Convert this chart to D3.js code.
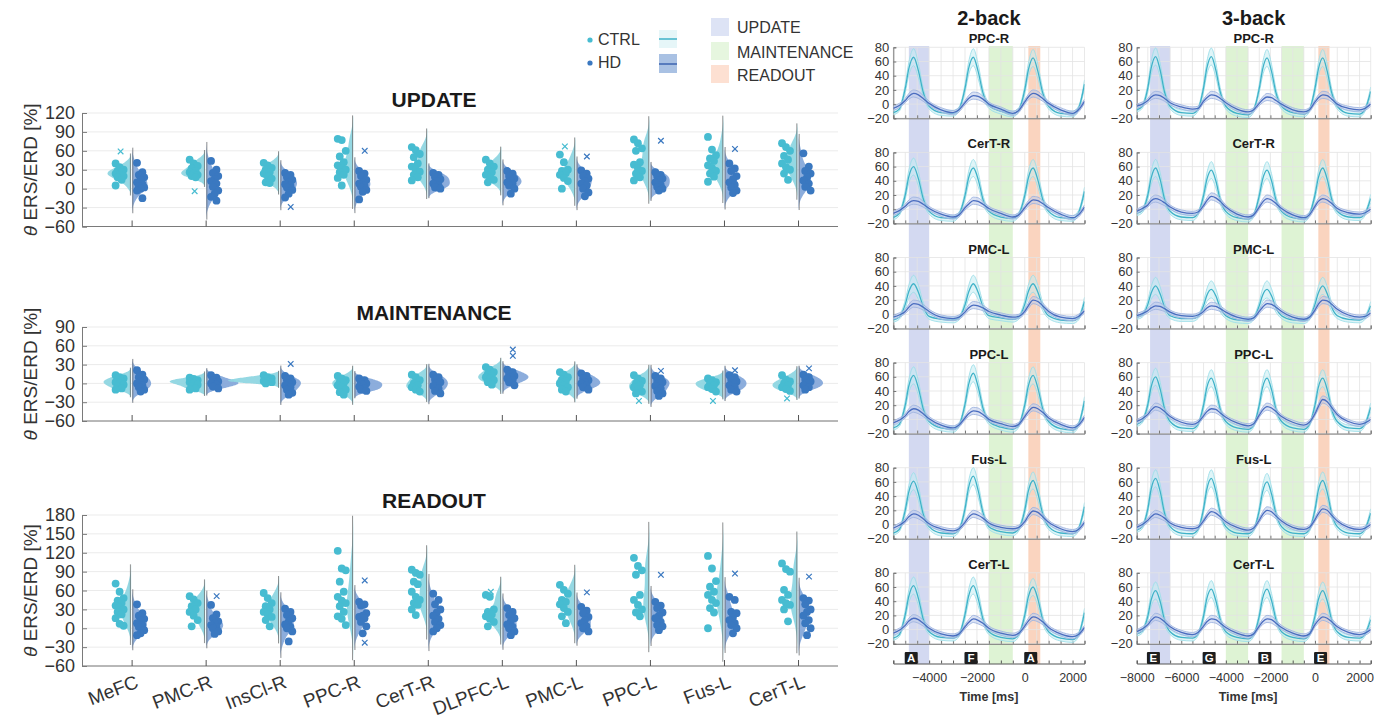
<!DOCTYPE html>
<html><head><meta charset="utf-8">
<script src="https://cdnjs.cloudflare.com/ajax/libs/d3/7.8.5/d3.min.js"></script>
<style>
body{margin:0;background:#fff;}
svg{font-family:"Liberation Sans",Arial,sans-serif;}
</style></head><body>
<svg id="fig" width="1384" height="723"></svg>
<script>
// ---------- left: ERS/ERD per region ----------
const regions = ["MeFC","PMC-R","InsCl-R","PPC-R","CerT-R","DLPFC-L","PMC-L","PPC-L","Fus-L","CerT-L"];

const updCtrl = [
  [40,34,30,28,26,24,22,20,18,14,5],
  [46,40,36,32,28,26,24,22,20,18],
  [41,37,33,30,26,24,20,16,10,9],
  [79,77,60,51,42,37,33,30,26,22,17,5],
  [66,61,55,50,40,35,30,27,22,18,13],
  [46,40,35,30,26,22,18,14,10],
  [54,42,30,28,25,22,17,12,0],
  [78,72,64,60,42,38,32,28,24,18,13],
  [82,62,53,48,44,37,33,28,24,19,11],
  [72,66,60,52,46,40,34,30,24,14]];
const updHd = [
  [41,26,22,18,14,10,7,4,2,0,-3,-15],
  [44,30,25,20,15,12,8,3,-3,-8,-13,-19],
  [25,22,18,14,10,7,5,2,-2,-8,-14],
  [28,24,20,14,10,8,5,3,-2,-5,-17],
  [25,22,18,15,12,8,5,2,0],
  [28,24,20,16,12,10,8,5,0,-8],
  [29,24,20,16,12,8,5,0,-6,-12],
  [26,22,20,16,13,10,6,3,0,-3],
  [40,32,28,20,15,10,6,2,-3,-7],
  [56,35,28,24,18,13,8,3,-3]];
const updCtrlOut = [[59],[-4],[],[],[],[],[67],[],[],[]];
const updHdOut   = [[],[],[-29],[60],[],[],[51],[76],[63],[]];

const mntCtrl = [
  [13,10,8,5,3,2,0,-2,-5,-8,-10],
  [9,7,5,4,3,2,0,-2,-5,-8,-10],
  [13,10,8,7,5,4,3,2,0],
  [12,8,5,2,0,-3,-6,-10,-14,-18],
  [14,10,5,0,-3,-6,-10,-13],
  [26,22,18,15,12,10,8,5,2,-2],
  [18,14,10,6,3,0,-3,-6,-10,-13],
  [13,8,4,0,-3,-6,-10,-13,-16],
  [8,5,2,0,-3,-6,-9,-13],
  [13,6,3,0,-3,-6,-9,-12]];
const mntHd = [
  [21,14,10,6,3,0,-3,-6,-10,-13],
  [13,9,5,3,1,0,-2,-5,-8],
  [12,8,5,2,0,-3,-6,-10,-15,-18],
  [8,5,2,0,-2,-5,-8,-10,-12],
  [14,10,6,2,0,-4,-8,-12,-16],
  [22,18,15,12,10,8,5,2,-3],
  [16,12,8,5,2,0,-3,-6,-10],
  [12,8,4,2,0,-4,-8,-12,-16,-20],
  [13,10,6,3,0,-3,-6,-10,-13],
  [14,10,6,3,0,-3,-6,-10]];
const mntCtrlOut = [[],[],[],[],[],[],[],[-28],[-28],[-24]];
const mntHdOut   = [[],[],[31],[],[],[54,44],[],[20],[21],[24]];

const rdCtrl = [
  [71,58,48,44,40,36,33,30,26,22,16,7,4],
  [51,46,40,35,30,26,20,13,3],
  [56,48,40,35,30,26,22,18,13,3],
  [123,95,92,74,58,50,44,40,35,26,19,15,5],
  [93,88,85,74,70,58,50,45,40,37,30,21],
  [53,50,30,26,22,19,15,10,3],
  [69,61,55,45,42,38,32,26,19,8],
  [112,99,92,85,53,45,37,30,25,19],
  [115,95,75,66,58,53,45,40,32,25,0],
  [103,94,90,61,53,45,40,37,30,11]];
const rdHd = [
  [38,24,20,15,12,8,5,2,-3,-8,-11],
  [37,22,16,11,8,5,2,0,-5,-9],
  [31,26,21,16,11,6,2,0,-5,-21],
  [42,38,36,24,20,18,16,10,3,-8],
  [55,45,38,30,25,20,15,10,5,0,-5],
  [32,26,21,16,11,6,2,0,-5,-11],
  [34,28,24,18,13,8,3,0,-5],
  [42,36,32,25,20,16,10,5,3,-3],
  [50,45,26,24,18,13,8,5,0,-8],
  [48,44,38,30,26,20,13,8,0,-11]];
const rdCtrlOut = [[],[],[],[],[],[58],[],[],[],[]];
const rdHdOut   = [[],[51],[],[76,-23],[],[],[57],[85],[87],[82]];

// ---------- right: time courses ----------
const rois = ["PPC-R","CerT-R","PMC-L","PPC-L","Fus-L","CerT-L"];
const t2 = [-5500,-5250, -5000,-4850,-4650,-4450,-4250,-4000,-3500,-3000,-2750,
  -2500,-2350,-2150,-1950,-1750,-1500,-1000,-500,-250,
  0,150,350,550,750,1000,1500,2000,2250,2500];
const t3 = [-8000,-7750, -7500,-7350,-7150,-6950,-6750,-6500,-6000,-5500,-5250,
  -5000,-4850,-4650,-4450,-4250,-4000,-3500,-3000,-2750,
  -2500,-2350,-2150,-1950,-1750,-1500,-1000,-500,-250,
  0,150,350,550,750,1000,1500,2000,2250,2500];

const ctrl2 = [
  [-12,-7, 22,50,66,47,17,-3,-12,-13,-7, 22,50,66,46,16,-2,-10,-14,-8, 20,48,65,46,16,-3,-13,-14,-6,28],
  [-12,-6, 20,46,60,43,15,-3,-12,-13,-7, 19,44,58,42,14,-3,-11,-13,-7, 19,44,58,41,14,-3,-12,-13,-5,25],
  [-8,-4, 14,32,43,31,11,-3,-7,-8,-5, 13,31,43,31,11,-2,-5,-7,-4, 14,32,43,31,11,-2,-8,-9,-5,18],
  [-12,-7, 20,47,62,44,15,-3,-12,-14,-8, 21,49,65,46,16,-3,-11,-14,-8, 20,47,62,44,15,-3,-13,-15,-7,26],
  [-12,-7, 20,46,61,44,15,-3,-12,-13,-7, 22,52,68,48,17,-3,-10,-12,-6, 20,47,62,44,15,-3,-12,-13,-6,25],
  [-12,-7, 21,47,62,44,15,-3,-11,-12,-7, 21,47,62,44,15,-3,-11,-13,-7, 20,46,60,43,14,-3,-12,-14,-7,24]];
const hd2 = [
  [-6,-2, 5,11,15,13,8,1,-8,-12,-8, 2,8,12,11,7,0,-7,-13,-9, 3,10,15,13,8,1,-8,-13,-8,4],
  [-6,-2, 4,9,12,11,7,1,-7,-11,-8, 2,7,12,11,7,1,-6,-11,-8, 2,8,13,12,8,2,-7,-12,-8,3],
  [-4,-1, 4,10,15,14,10,4,-4,-6,-4, 3,9,13,12,9,4,-1,-4,-3, 4,12,20,18,12,4,-4,-6,-3,5],
  [-5,-1, 5,11,15,13,8,1,-8,-12,-8, 2,8,12,11,7,0,-6,-10,-7, 4,11,17,15,10,2,-7,-12,-8,3],
  [-5,-1, 5,11,15,13,8,1,-6,-9,-6, 3,10,15,13,9,2,-4,-6,-4, 4,12,19,17,11,3,-6,-10,-7,3],
  [-5,-1, 6,12,16,14,9,2,-6,-9,-6, 4,10,15,13,9,2,-5,-8,-5, 5,12,18,16,11,3,-6,-10,-7,3]];
const ctrl3 = [
  [-8,-3, 23,51,67,48,17,-3,-12,-13,-7, 23,51,67,48,17,-3,-13,-15,-8, 22,49,65,46,16,-3,-12,-14,-8, 22,49,65,46,16,-3,-13,-14,-7,18],
  [-6,-2, 20,44,58,42,14,-3,-11,-12,-6, 19,42,55,40,13,-3,-12,-14,-8, 19,42,55,40,13,-3,-12,-14,-7, 20,44,58,42,14,-3,-11,-12,-6,15],
  [-4,-1, 14,30,40,29,10,-2,-6,-6,-3, 12,27,35,26,9,-2,-8,-9,-5, 12,27,35,26,9,-2,-8,-9,-5, 14,30,40,29,10,-2,-7,-8,-4,12],
  [-7,-2, 21,46,60,43,15,-3,-12,-13,-7, 20,45,58,42,14,-3,-12,-14,-8, 20,45,58,42,14,-3,-12,-14,-7, 20,45,58,42,14,-3,-12,-13,-6,17],
  [-8,-3, 22,50,65,47,16,-3,-12,-13,-7, 22,50,65,47,16,-3,-12,-13,-7, 20,46,60,43,15,-3,-12,-13,-7, 21,48,62,45,15,-3,-12,-13,-6,16],
  [-6,-2, 19,42,55,40,13,-3,-11,-12,-6, 19,44,57,41,14,-3,-11,-13,-7, 19,44,57,41,14,-3,-11,-13,-7, 19,42,55,40,13,-3,-11,-12,-6,14]];
const hd3 = [
  [-3,0, 5,10,13,12,8,2,-4,-7,-6, 4,9,13,12,8,2,-7,-11,-8, 1,6,10,9,5,0,-8,-11,-8, 3,9,13,12,7,0,-6,-8,-6,0],
  [-3,1, 6,12,15,13,9,3,-4,-6,-4, 5,12,18,16,11,3,-7,-11,-8, 3,10,15,13,8,1,-8,-12,-8, 4,11,15,13,8,1,-5,-7,-5,0],
  [-2,1, 5,9,12,11,8,3,-2,-3,-1, 4,9,12,11,8,3,-4,-7,-5, 4,10,15,14,10,4,-4,-7,-4, 6,14,20,19,14,7,-1,-4,-3,2],
  [-3,1, 7,13,18,16,11,4,-4,-7,-4, 5,11,15,14,9,3,-5,-9,-6, 6,13,18,16,11,4,-4,-8,-4, 8,18,28,25,17,7,-3,-7,-5,0],
  [-4,0, 6,11,15,13,9,2,-4,-6,-4, 5,12,18,16,11,4,-4,-8,-5, 6,14,20,18,12,5,-4,-7,-4, 7,15,22,20,13,5,-4,-7,-5,0],
  [-3,1, 7,13,18,16,11,4,-4,-7,-4, 5,11,15,14,9,3,-5,-9,-6, 5,11,15,14,9,3,-5,-9,-6, 7,13,18,16,11,4,-4,-7,-5,0]];
const ctrlSe2 = [3,3, 6,9,12,10,6,4,4,4,3, 6,9,12,10,6,4,4,4,3, 6,9,12,10,6,4,4,4,3,6];
const hdSe2   = [3,3, 3,4,5,5,4,3,3,3,3, 3,4,5,5,4,3,3,3,3, 3,4,5,5,4,3,3,3,3,3];
const ctrlSe3 = [3,3, 6,9,12,10,6,4,4,4,3, 6,9,12,10,6,4,4,4,3, 6,9,12,10,6,4,4,4,3, 6,9,12,10,6,4,4,4,3,6];
const hdSe3   = [3,3, 3,4,5,5,4,3,3,3,3, 3,4,5,5,4,3,3,3,3, 3,4,5,5,4,3,3,3,3, 3,4,5,5,4,3,3,3,3,3];

const updWin2 = [[-4850,-4000]], mntWin2 = [[-1500,-500]], rdWin2 = [[150,650]];
const updWin3 = [[-7400,-6500]], mntWin3 = [[-4000,-3000],[-1500,-500]], rdWin3 = [[150,650]];
const onsets2 = [-5000,-2500,0], letters2 = ["A","F","A"];
const onsets3 = [-7500,-5000,-2500,0], letters3 = ["E","G","B","E"];

// ---------- colours ----------
const cCtrl = "#47bcd1", cHd = "#3a78c0";
const vCtrl = "#8fd6e2", vHd = "#86a9da";
const winCol = {upd:"#cbd2ef", mnt:"#d8f1cd", rd:"#f9cdb4"};

const svg = d3.select("#fig");

// ================= left panels =================
const xCat = d3.scaleLinear().domain([-0.67, 9.54]).range([82, 838]);
const phases = [
  {name:"UPDATE", ctrl:updCtrl, hd:updHd, cOut:updCtrlOut, hOut:updHdOut, dom:[-60,120], rng:[226.5,113], ty:107},
  {name:"MAINTENANCE", ctrl:mntCtrl, hd:mntHd, cOut:mntCtrlOut, hOut:mntHdOut, dom:[-60,90], rng:[421,327], ty:320},
  {name:"READOUT", ctrl:rdCtrl, hd:rdHd, cOut:rdCtrlOut, hOut:rdHdOut, dom:[-60,180], rng:[666,515], ty:508}
];

function kde(vals) {
  const sd = d3.deviation(vals);
  const bw = 1.06 * sd * Math.pow(vals.length, -0.2);
  const lo = d3.min(vals) - 2.5 * bw, hi = d3.max(vals) + 2.5 * bw;
  const pts = [];
  for (let v = lo; v <= hi + 1e-9; v += (hi - lo) / 80) {
    const dens = d3.mean(vals, d => Math.exp(-0.5 * ((v - d) / bw) ** 2) / (bw * Math.sqrt(2 * Math.PI)));
    pts.push([v, dens]);
  }
  return {pts, lo, hi};
}

const K = 640; // px per unit density
phases.forEach((ph, pi) => {
  const y = d3.scaleLinear().domain(ph.dom).range(ph.rng);
  const g = svg.append("g");
  const ticks = d3.range(ph.dom[0], ph.dom[1] + 1, 30);

  g.selectAll(".grid").data(ticks).enter().append("line")
    .attr("x1", 82).attr("x2", 838).attr("y1", d => y(d)).attr("y2", d => y(d))
    .attr("stroke", "#ebebeb").attr("stroke-width", 1);

  const yAx = g.append("g").attr("transform", "translate(82,0)")
    .call(d3.axisLeft(y).tickValues(ticks).tickSize(-5).tickPadding(7));
  yAx.select(".domain").attr("stroke", "#7a7a7a");
  yAx.selectAll(".tick line").attr("stroke", "#7a7a7a");
  yAx.selectAll("text").attr("font-size", 18).attr("fill", "#333").attr("font-family", "Liberation Sans, Arial");

  const xAx = g.append("g").attr("transform", "translate(0," + ph.rng[0] + ")")
    .call(d3.axisBottom(xCat).tickValues(d3.range(10)).tickSize(-6).tickFormat(""));
  xAx.select(".domain").attr("stroke", "#7a7a7a").attr("d", "M82,0H838");
  xAx.selectAll(".tick line").attr("stroke", "#555");

  g.append("text").attr("x", 434).attr("y", ph.ty).attr("text-anchor", "middle")
    .attr("font-size", 21).attr("font-weight", "bold").attr("fill", "#1a1a1a").text(ph.name);

  const yl = g.append("text")
    .attr("transform", "translate(37," + ((ph.rng[0] + ph.rng[1]) / 2) + ") rotate(-90)")
    .attr("text-anchor", "middle").attr("font-size", 19).attr("fill", "#333");
  yl.append("tspan").attr("font-style", "italic").text("θ");
  yl.append("tspan").text(" ERS/ERD [%]");

  regions.forEach((r, ci) => {
    const cx = xCat(ci);
    [["ctrl", -1], ["hd", 1]].forEach(([key, side]) => {
      const k = kde(ph[key][ci]);
      const area = d3.area()
        .y(d => y(d[0]))
        .x0(cx + side * 0.5)
        .x1(d => cx + side * (0.5 + d[1] * K))
        .curve(d3.curveBasis);
      g.append("path").datum(k.pts).attr("d", area)
        .attr("fill", key === "ctrl" ? vCtrl : vHd).attr("fill-opacity", 0.95);
      g.append("line").attr("x1", cx + side * 1.2).attr("x2", cx + side * 1.2)
        .attr("y1", y(k.hi)).attr("y2", y(k.lo))
        .attr("stroke", "#6e6e6e").attr("stroke-width", 1).attr("stroke-opacity", 0.75);
    });
    g.selectAll(null).data(ph.ctrl[ci]).enter().append("circle")
      .attr("cx", (d, i) => cx - 12 + ((i * 7) % 5 - 2) * 2.0)
      .attr("cy", d => y(d)).attr("r", 3.9).attr("fill", cCtrl);
    g.selectAll(null).data(ph.hd[ci]).enter().append("circle")
      .attr("cx", (d, i) => cx + 9 + ((i * 3) % 5 - 2) * 1.8)
      .attr("cy", d => y(d)).attr("r", 3.9).attr("fill", cHd);
    const sym = d3.symbol(d3.symbolX, 22);
    g.selectAll(null).data(ph.cOut[ci]).enter().append("path")
      .attr("d", sym).attr("transform", d => "translate(" + (cx - 11) + "," + y(d) + ")")
      .attr("fill", "none").attr("stroke", cCtrl).attr("stroke-width", 1.2);
    g.selectAll(null).data(ph.hOut[ci]).enter().append("path")
      .attr("d", sym).attr("transform", d => "translate(" + (cx + 11) + "," + y(d) + ")")
      .attr("fill", "none").attr("stroke", cHd).attr("stroke-width", 1.2);
  });

  if (pi === 2) {
    regions.forEach((r, ci) => {
      g.append("text")
        .attr("transform", "translate(" + (xCat(ci) + 8) + "," + 687 + ") rotate(-21)")
        .attr("text-anchor", "end").attr("font-size", 19).attr("fill", "#333").text(r);
    });
  }
});

// ---------- legend ----------
const lg = svg.append("g");
lg.append("circle").attr("cx", 590).attr("cy", 40).attr("r", 2.6).attr("fill", cCtrl);
lg.append("circle").attr("cx", 590).attr("cy", 63).attr("r", 2.6).attr("fill", cHd);
lg.append("text").attr("x", 598).attr("y", 45).attr("font-size", 16).attr("fill", "#333").text("CTRL");
lg.append("text").attr("x", 598).attr("y", 68).attr("font-size", 16).attr("fill", "#333").text("HD");
lg.append("rect").attr("x", 659).attr("y", 30).attr("width", 18).attr("height", 18).attr("fill", "#e6f6f8");
lg.append("line").attr("x1", 659).attr("x2", 677).attr("y1", 39).attr("y2", 39).attr("stroke", "#3fb2c8").attr("stroke-width", 1.5);
lg.append("rect").attr("x", 659).attr("y", 54).attr("width", 18).attr("height", 19).attr("fill", "#a9c1e3");
lg.append("line").attr("x1", 659).attr("x2", 677).attr("y1", 64).attr("y2", 64).attr("stroke", "#3d63b0").attr("stroke-width", 1.5);
[["UPDATE", "#dde3f5", 18, 33], ["MAINTENANCE", "#e6f6df", 42, 58], ["READOUT", "#fde0d2", 65, 81]].forEach(d => {
  lg.append("rect").attr("x", 711).attr("y", d[2]).attr("width", 18).attr("height", 18).attr("fill", d[1]);
  lg.append("text").attr("x", 737).attr("y", d[3]).attr("font-size", 16).attr("fill", "#333").text(d[0]);
});

// ================= right panels =================
const panelTop = k => 47.3 + k * 105.1;
const panelH = 71;

function drawColumn(cfg) {
  const x = d3.scaleLinear().domain(cfg.dom).range(cfg.rng);
  const col = svg.append("g");
  const cx = (cfg.rng[0] + cfg.rng[1]) / 2;
  col.append("text").attr("x", cx).attr("y", 25).attr("text-anchor", "middle")
    .attr("font-size", 20).attr("font-weight", "bold").attr("fill", "#1a1a1a").text(cfg.title);

  [[cfg.upd, winCol.upd], [cfg.mnt, winCol.mnt], [cfg.rd, winCol.rd]].forEach(([wins, c]) => {
    wins.forEach(w => {
      col.append("rect").attr("x", x(w[0])).attr("width", x(w[1]) - x(w[0]))
        .attr("y", 46).attr("height", 618).attr("fill", c).attr("fill-opacity", 0.85);
    });
  });

  const minor = d3.range(cfg.dom[0], cfg.dom[1] + 1, 500);
  rois.forEach((roi, k) => {
    const top = panelTop(k);
    const y = d3.scaleLinear().domain([-20, 80]).range([top + panelH, top]);
    const g = col.append("g");
    const clipId = "clip" + cfg.id + k;
    g.append("clipPath").attr("id", clipId).append("rect")
      .attr("x", cfg.rng[0]).attr("y", top - 1).attr("width", cfg.rng[1] - cfg.rng[0]).attr("height", panelH + 1);

    g.selectAll(null).data(minor).enter().append("line")
      .attr("x1", d => x(d)).attr("x2", d => x(d)).attr("y1", top).attr("y2", top + panelH)
      .attr("stroke", "#e3e3e3").attr("stroke-width", 0.8);
    g.selectAll(null).data(d3.range(-20, 81, 20)).enter().append("line")
      .attr("x1", cfg.rng[0]).attr("x2", cfg.rng[1]).attr("y1", d => y(d)).attr("y2", d => y(d))
      .attr("stroke", "#e3e3e3").attr("stroke-width", 0.8);

    const yAx = g.append("g").attr("transform", "translate(" + cfg.rng[0] + ",0)")
      .call(d3.axisLeft(y).tickValues(d3.range(-20, 81, 20)).tickSize(-3).tickPadding(4));
    yAx.select(".domain").attr("stroke", "#777");
    yAx.selectAll(".tick line").attr("stroke", "#777");
    yAx.selectAll("text").attr("font-size", 13).attr("fill", "#333").attr("font-family", "Liberation Sans, Arial");

    const xAx = g.append("g").attr("transform", "translate(0," + (top + panelH) + ")")
      .call(d3.axisBottom(x).tickValues(minor).tickSize(-3).tickFormat(""));
    xAx.select(".domain").attr("stroke", "#777");
    xAx.selectAll(".tick line").attr("stroke", "#777");

    g.append("text").attr("x", cx).attr("y", top - 4).attr("text-anchor", "middle")
      .attr("font-size", 13).attr("font-weight", "bold").attr("fill", "#1a1a1a").text(roi);

    const plot = g.append("g").attr("clip-path", "url(#" + clipId + ")");
    [[cfg.ctrl[k], cfg.ctrlSe, "#c4ecf2", "#9edfe9", "#3fb2c8"],
     [cfg.hd[k], cfg.hdSe, "#bccbeb", "#9fb4e0", "#4a6cbf"]].forEach(([m, se, fill, edge, line]) => {
      const rows = cfg.t.map((t, i) => ({t, m: m[i], lo: m[i] - se[i], hi: m[i] + se[i]}));
      plot.append("path").datum(rows)
        .attr("d", d3.area().x(d => x(d.t)).y0(d => y(d.lo)).y1(d => y(d.hi)).curve(d3.curveMonotoneX))
        .attr("fill", fill).attr("fill-opacity", 0.55);
      ["lo", "hi"].forEach(key => {
        plot.append("path").datum(rows)
          .attr("d", d3.line().x(d => x(d.t)).y(d => y(d[key])).curve(d3.curveMonotoneX))
          .attr("fill", "none").attr("stroke", edge).attr("stroke-width", 0.9);
      });
      plot.append("path").datum(rows)
        .attr("d", d3.line().x(d => x(d.t)).y(d => y(d.m)).curve(d3.curveMonotoneX))
        .attr("fill", "none").attr("stroke", line).attr("stroke-width", 1.3);
    });
  });

  const ax = col.append("g").attr("transform", "translate(0,663.5)")
    .call(d3.axisBottom(x).tickValues(minor).tickSize(-3).tickFormat(""));
  ax.select(".domain").attr("stroke", "#555");
  ax.selectAll(".tick line").attr("stroke", "#555");
  const lab = col.append("g").attr("transform", "translate(0,663.5)")
    .call(d3.axisBottom(x).tickValues(cfg.major).tickSize(0).tickPadding(10).tickFormat(d3.format("d")));
  lab.select(".domain").remove();
  lab.selectAll("text").attr("font-size", 12.5).attr("fill", "#333").attr("font-family", "Liberation Sans, Arial");
  col.append("text").attr("x", x(cfg.labelAt)).attr("y", 701).attr("text-anchor", "middle")
    .attr("font-size", 12.5).attr("font-weight", "bold").attr("fill", "#333").text("Time [ms]");

  cfg.onsets.forEach((o, i) => {
    const bx = x(o + 250);
    col.append("rect").attr("x", bx - 6.5).attr("y", 652).attr("width", 13).attr("height", 12)
      .attr("fill", "#1e1e1e").attr("rx", 1);
    col.append("text").attr("x", bx).attr("y", 662).attr("text-anchor", "middle")
      .attr("font-size", 11.5).attr("font-weight", "bold").attr("fill", "#fff").text(cfg.letters[i]);
  });
}

drawColumn({id: "b2", title: "2-back", dom: [-5500, 2500], rng: [893.3, 1084.5], t: t2,
  ctrl: ctrl2, hd: hd2, ctrlSe: ctrlSe2, hdSe: hdSe2,
  upd: updWin2, mnt: mntWin2, rd: rdWin2, onsets: onsets2, letters: letters2,
  major: [-4000, -2000, 0, 2000], labelAt: -1500});
drawColumn({id: "b3", title: "3-back", dom: [-8000, 2500], rng: [1136.7, 1370.7], t: t3,
  ctrl: ctrl3, hd: hd3, ctrlSe: ctrlSe3, hdSe: hdSe3,
  upd: updWin3, mnt: mntWin3, rd: rdWin3, onsets: onsets3, letters: letters3,
  major: [-8000, -6000, -4000, -2000, 0, 2000], labelAt: -3000});
</script></body></html>
